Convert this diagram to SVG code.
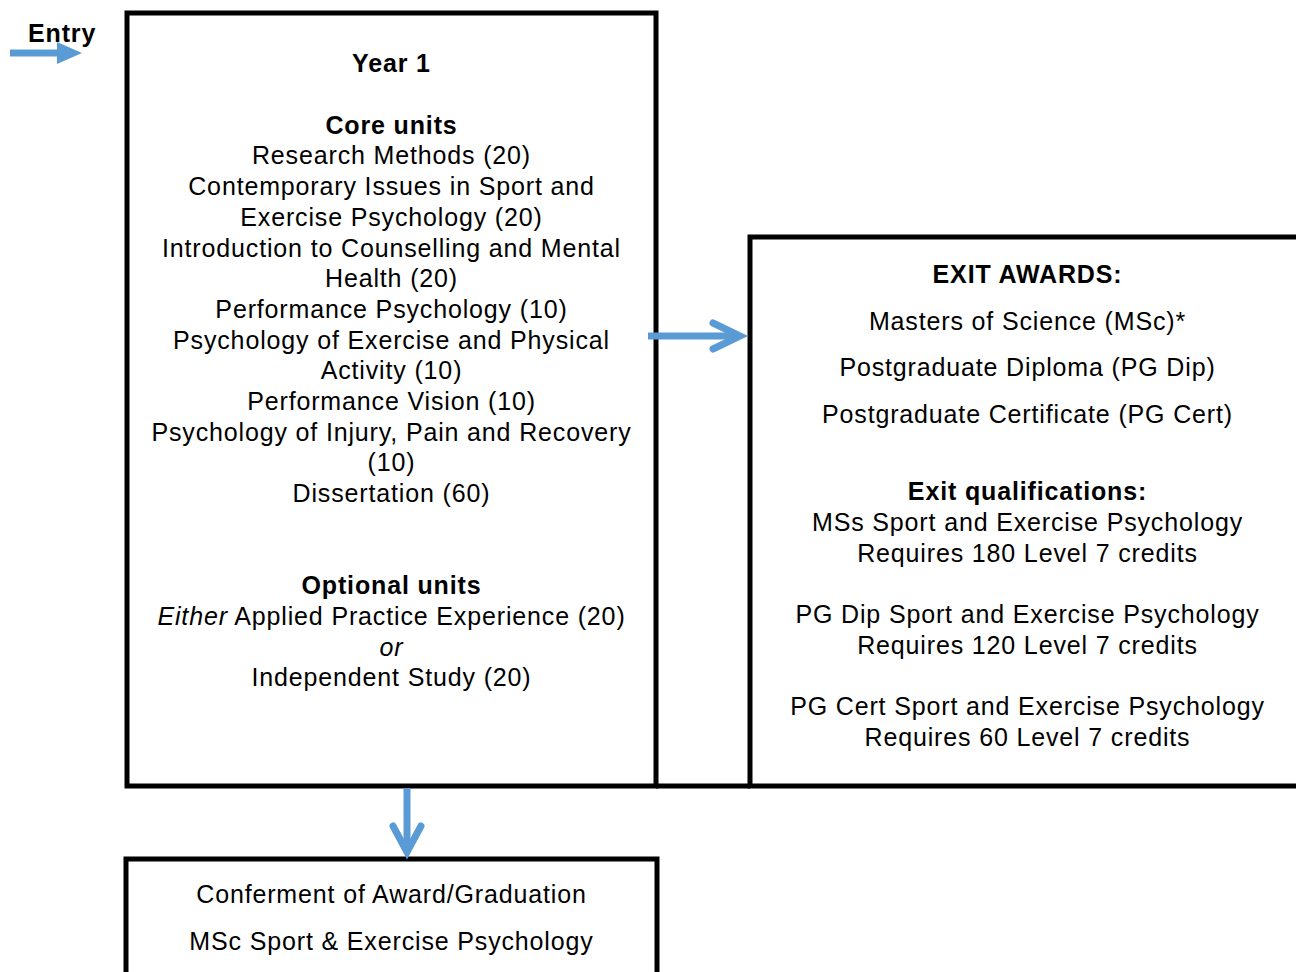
<svg xmlns="http://www.w3.org/2000/svg" width="1296" height="972" viewBox="0 0 1296 972">
<style>
text{font-family:"Liberation Sans",Arial,sans-serif;font-size:25px;letter-spacing:0.85px;fill:#000;text-anchor:middle}
.b{font-weight:bold}
.i{font-style:italic}
.box{fill:#fff;stroke:#000;stroke-width:5}
.arr{fill:none;stroke:#5B9BD5;stroke-width:7;stroke-linecap:butt}
.chev{fill:none;stroke:#5B9BD5;stroke-width:7;stroke-linecap:round;stroke-linejoin:miter}
</style>
<rect width="1296" height="972" fill="#fff"/>
<g id="year1">
<rect class="box" x="127" y="13" width="529" height="773"/>
<text x="391.5" y="72" class="b">Year 1</text>
<text x="391.5" y="134" class="b">Core units</text>
<text x="391.5" y="164">Research Methods (20)</text>
<text x="391.5" y="195">Contemporary Issues in Sport and</text>
<text x="391.5" y="226">Exercise Psychology (20)</text>
<text x="391.5" y="257">Introduction to Counselling and Mental</text>
<text x="391.5" y="287">Health (20)</text>
<text x="391.5" y="318">Performance Psychology (10)</text>
<text x="391.5" y="349">Psychology of Exercise and Physical</text>
<text x="391.5" y="379">Activity (10)</text>
<text x="391.5" y="410">Performance Vision (10)</text>
<text x="391.5" y="441">Psychology of Injury, Pain and Recovery</text>
<text x="391.5" y="471">(10)</text>
<text x="391.5" y="502">Dissertation (60)</text>
<text x="391.5" y="594" class="b">Optional units</text>
<text x="391.5" y="625"><tspan class="i">Either</tspan> Applied Practice Experience (20)</text>
<text x="391.5" y="656" class="i">or</text>
<text x="391.5" y="686">Independent Study (20)</text>
</g>
<g id="exit">
<rect class="box" x="750" y="237" width="560" height="549"/>
<text x="1027.5" y="283" class="b">EXIT AWARDS:</text>
<text x="1027.5" y="330">Masters of Science (MSc)*</text>
<text x="1027.5" y="376">Postgraduate Diploma (PG Dip)</text>
<text x="1027.5" y="423">Postgraduate Certificate (PG Cert)</text>
<text x="1027.5" y="500" class="b">Exit qualifications:</text>
<text x="1027.5" y="531">MSs Sport and Exercise Psychology</text>
<text x="1027.5" y="562">Requires 180 Level 7 credits</text>
<text x="1027.5" y="623">PG Dip Sport and Exercise Psychology</text>
<text x="1027.5" y="654">Requires 120 Level 7 credits</text>
<text x="1027.5" y="715">PG Cert Sport and Exercise Psychology</text>
<text x="1027.5" y="746">Requires 60 Level 7 credits</text>
</g>
<g id="connector-line">
<line x1="656" y1="786" x2="750" y2="786" stroke="#000" stroke-width="5"/>
</g>
<g id="graduation">
<rect class="box" x="126" y="859" width="531" height="130"/>
<text x="391.5" y="903">Conferment of Award/Graduation</text>
<text x="391.5" y="950">MSc Sport &amp; Exercise Psychology</text>
</g>
<g id="entry">
<text x="28" y="42" class="b" style="text-anchor:start">Entry</text>
</g>
<g id="connectors">
<line class="arr" x1="10" y1="53" x2="60" y2="53"/>
<polygon points="57,42 82,53 57,64" fill="#5B9BD5"/>
<line class="arr" x1="648" y1="336" x2="738" y2="336"/>
<polyline class="chev" points="713,323 740,336 713,349"/>
<line class="arr" x1="407" y1="788" x2="407" y2="850"/>
<polyline class="chev" points="393,826 407,852 421,826"/>
</g>
</svg>
